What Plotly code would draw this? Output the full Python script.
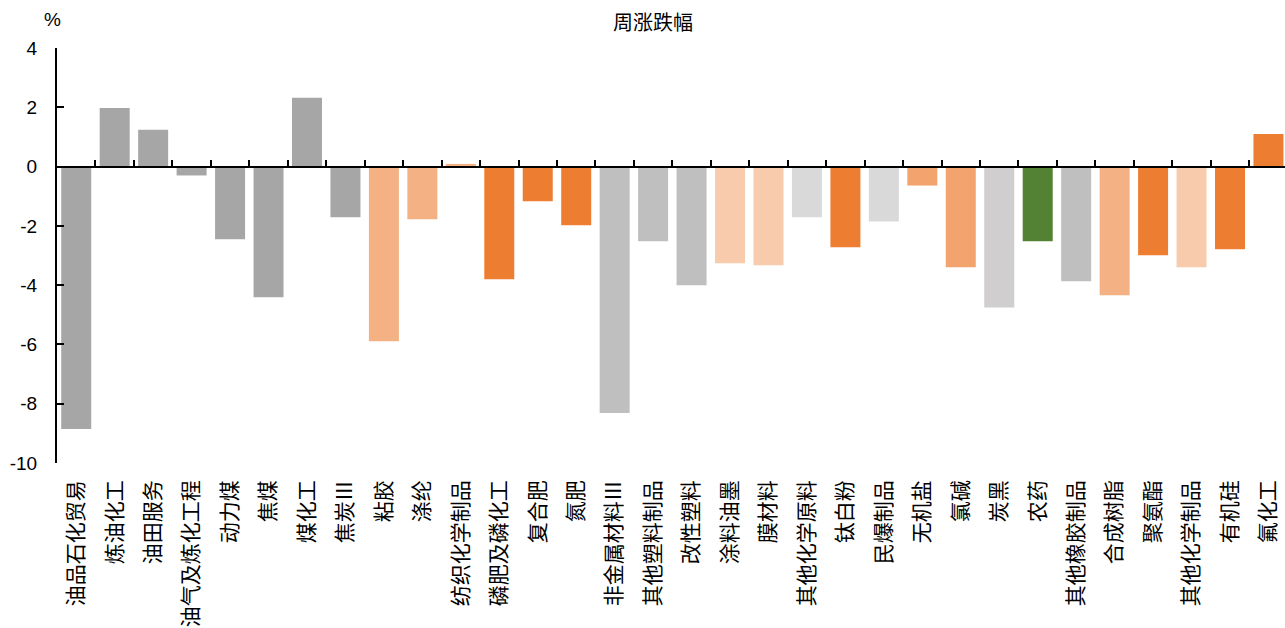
import plotly.graph_objects as go

# 行业周涨跌幅（%）
categories = [
    "油品石化贸易", "炼油化工", "油田服务", "油气及炼化工程", "动力煤", "焦煤", "煤化工", "焦炭Ⅲ",
    "粘胶", "涤纶", "纺织化学制品", "磷肥及磷化工", "复合肥", "氮肥", "非金属材料Ⅲ", "其他塑料制品",
    "改性塑料", "涂料油墨", "膜材料", "其他化学原料", "钛白粉", "民爆制品", "无机盐", "氯碱",
    "炭黑", "农药", "其他橡胶制品", "合成树脂", "聚氨酯", "其他化学制品", "有机硅", "氟化工",
]
weekly_change = [
    -8.85, 1.98, 1.24, -0.30, -2.45, -4.41, 2.32, -1.71,
    -5.89, -1.78, 0.09, -3.80, -1.17, -1.98, -8.31, -2.52,
    -4.00, -3.26, -3.33, -1.71, -2.72, -1.85, -0.64, -3.40,
    -4.75, -2.52, -3.87, -4.34, -2.99, -3.40, -2.79, 1.10,
]
bar_colors = [
    "#A6A6A6", "#A6A6A6", "#A6A6A6", "#A6A6A6", "#A6A6A6", "#A6A6A6", "#A6A6A6", "#A6A6A6",
    "#F4B183", "#F4B183", "#F4B183", "#ED7D31", "#ED7D31", "#ED7D31", "#BFBFBF", "#BFBFBF",
    "#BFBFBF", "#F8CBAD", "#F8CBAD", "#D9D9D9", "#ED7D31", "#D9D9D9", "#F3A46E", "#F3A46E",
    "#D0CECE", "#548235", "#BFBFBF", "#F4B183", "#ED7D31", "#F8CBAD", "#ED7D31", "#ED7D31",
]
y_ticks = [4, 2, 0, -2, -4, -6, -8, -10]

positions = list(range(len(categories)))
boundaries = [p + 0.5 for p in positions[:-1]]

fig = go.Figure()
fig.add_trace(go.Bar(
    x=positions, y=weekly_change, marker=dict(color=bar_colors, line=dict(width=0)),
    width=0.78, showlegend=False,
))
# carrier for the zero-line axis
fig.add_trace(go.Scatter(x=[], y=[], xaxis="x2", showlegend=False, hoverinfo="skip"))

num_font = dict(family="Liberation Sans, Arial, sans-serif", size=19, color="#000000")
cjk_font = dict(family="Noto Sans CJK SC, sans-serif", size=21, color="#000000")

y_min, y_max = -10, 4
fig.update_layout(
    width=1285, height=628,
    margin=dict(l=57, r=0, t=48, b=165),
    paper_bgcolor="white", plot_bgcolor="white",
    bargap=0.22,
    title=dict(text="周涨跌幅", x=653 / 1285, xanchor="center", xref="container",
               y=1 - 23 / 628, yanchor="middle", yref="container",
               font=dict(family="Noto Sans CJK SC, sans-serif", size=20, color="#000000")),
    xaxis=dict(
        range=[-0.5, 31.43], tickmode="array", tickvals=positions, ticktext=categories,
        tickangle=-90, tickfont=cjk_font, showline=False, showgrid=False, zeroline=False,
        ticks="", ticklabelstandoff=12,
    ),
    xaxis2=dict(
        overlaying="x", matches="x", anchor="free", position=(0 - y_min) / (y_max - y_min),
        side="bottom", tickmode="array", tickvals=boundaries, ticks="inside", ticklen=6,
        tickwidth=2, tickcolor="#000000", showticklabels=False, showline=True, linewidth=2,
        linecolor="#000000", showgrid=False, zeroline=False,
    ),
    yaxis=dict(
        range=[y_min, y_max], tickmode="array", tickvals=y_ticks, ticktext=[str(v) for v in y_ticks],
        ticks="inside", ticklen=7, tickwidth=2, tickcolor="#000000", showline=True, linewidth=2,
        linecolor="#000000", showgrid=False, zeroline=False, tickfont=num_font,
        ticklabelstandoff=14,
    ),
    annotations=[dict(
        text="%", xref="paper", yref="paper", x=(52 - 57) / 1228, y=(463 - 19) / 415,
        xanchor="center", yanchor="middle", showarrow=False, font=num_font,
    )],
)

fig.write_html("out.html")
